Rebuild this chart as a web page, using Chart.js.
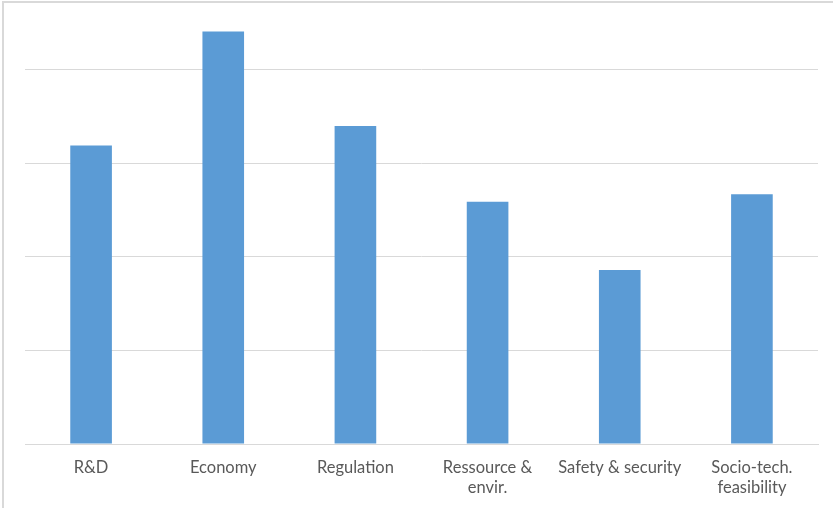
<!DOCTYPE html>
<html>
<head>
<meta charset="utf-8">
<script src="https://cdn.jsdelivr.net/npm/chart.js@4/dist/chart.umd.min.js"></script>
<style>
  html, body { margin: 0; padding: 0; background: #fff; overflow: hidden; }
  #wrap { position: relative; width: 833px; height: 508px; }
  #frame { position: absolute; left: 2px; top: 1px; width: 900px; height: 600px;
           border-left: 2px solid #d9d9d9; border-top: 2px solid #d9d9d9; box-sizing: border-box; }
  canvas { position: absolute; left: 0; top: 0; }
</style>
</head>
<body>
<div id="wrap">
  <div id="frame"></div>
  <canvas id="chart" width="833" height="508"></canvas>
</div>
<script>
// Category labels (multi-line where the original wraps)
const categories = [
    'R&D',
    'Economy',
    'Regulation',
    ['Ressource &', 'envir.'],
    'Safety & security',
    ['Socio-tech.', 'feasibility']
];
// Bar heights (in gridline units)
const values = [3.19, 4.41, 3.40, 2.59, 1.86, 2.67];
const yMax = 4.5;

const ctx = document.getElementById('chart').getContext('2d');
new Chart(ctx, {
    type: 'bar',
    data: {
        labels: categories,
        datasets: [{
            data: values,
            backgroundColor: '#5b9bd5',
            borderWidth: 0,
            categoryPercentage: 1,
            barPercentage: 0.315
        }]
    },
    options: {
        responsive: false,
        animation: false,
        layout: { padding: { left: 25, right: 15, top: 23, bottom: 0 } },
        plugins: {
            legend: { display: false },
            tooltip: { enabled: false }
        },
        scales: {
            y: {
                min: 0,
                max: yMax,
                ticks: { display: false, stepSize: 1 },
                border: { display: false },
                grid: {
                    drawTicks: false,
                    lineWidth: 1,
                    // only whole-unit gridlines, none along the very top
                    color: c => (c.tick && Number.isInteger(c.tick.value) && c.tick.value > 0) ? '#d9d9d9' : 'rgba(0,0,0,0)'
                },
                afterFit: scale => { scale.width = 0; }
            },
            x: {
                grid: { display: false, drawTicks: false },
                border: { display: true, color: '#d9d9d9', width: 1 },
                ticks: {
                    color: '#595959',
                    padding: 13,
                    maxRotation: 0,
                    autoSkip: false,
                    font: { family: 'Lato', size: 16.5, lineHeight: 1.25 }
                },
                afterFit: scale => { scale.height = 64; }
            }
        }
    }
});
</script>
</body>
</html>
